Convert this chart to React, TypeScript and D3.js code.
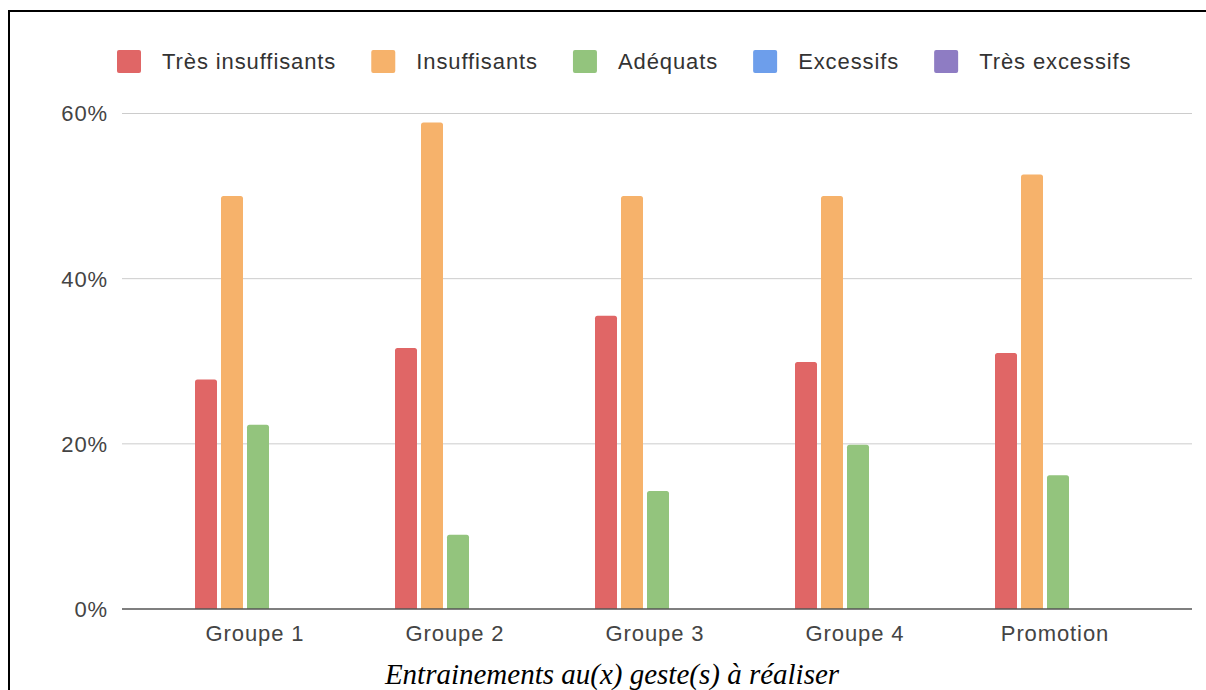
import React, { useEffect, useRef } from "react";
import * as d3 from "d3";

const categories = ["Groupe 1", "Groupe 2", "Groupe 3", "Groupe 4", "Promotion"];
const seriesNames = ["Très insuffisants", "Insuffisants", "Adéquats", "Excessifs", "Très excessifs"];
const seriesColors = ["#e06666", "#f6b26b", "#93c47d", "#6d9eeb", "#8e7cc3"];
const tresInsuffisants = [0.278, 0.316, 0.355, 0.299, 0.31];
const insuffisants = [0.5, 0.589, 0.5, 0.5, 0.526];
const adequats = [0.223, 0.09, 0.143, 0.199, 0.162];
const excessifs = [0, 0, 0, 0, 0];
const tresExcessifs = [0, 0, 0, 0, 0];
const yTicks = [0, 0.2, 0.4, 0.6];
const caption = "Entrainements au(x) geste(s) à réaliser";

const W = 1206;
const H = 690;
const FONT = "Arial, 'Liberation Sans', sans-serif";

export default function App() {
  const ref = useRef<SVGSVGElement>(null);

  useEffect(() => {
    const svg = d3.select(ref.current);
    svg.selectAll("*").remove();

    const allSeries = [tresInsuffisants, insuffisants, adequats, excessifs, tresExcessifs];
    const plotLeft = 122;
    const plotRight = 1192;
    const y = d3.scaleLinear().domain([0, 0.6]).range([609, 113.5]);
    const x = d3.scaleBand<string>().domain(categories).range([158, 1158]).padding(0);
    const xi = d3
      .scaleBand<string>()
      .domain(seriesNames)
      .range([37, 163])
      .paddingInner(4 / 26)
      .paddingOuter(0);

    // border
    svg
      .append("path")
      .attr("d", `M9,${H + 5} L9,11 L${W + 5},11`)
      .attr("fill", "none")
      .attr("stroke", "#000")
      .attr("stroke-width", 2);

    // gridlines
    svg
      .append("g")
      .selectAll("line")
      .data(yTicks.filter((t) => t > 0))
      .join("line")
      .attr("x1", plotLeft)
      .attr("x2", plotRight)
      .attr("y1", (d) => y(d))
      .attr("y2", (d) => y(d))
      .attr("stroke", "#cccccc")
      .attr("stroke-width", 1);

    // y labels
    svg
      .append("g")
      .selectAll("text")
      .data(yTicks)
      .join("text")
      .attr("x", 108)
      .attr("y", (d) => y(d))
      .attr("dy", "0.36em")
      .attr("text-anchor", "end")
      .attr("font-family", FONT)
      .attr("font-size", 22)
      .attr("letter-spacing", 0.9)
      .attr("fill", "#444")
      .text((d) => d3.format(".0%")(d));

    // bars
    const r = 2.5;
    const barPath = (x0: number, w: number, yTop: number, yBase: number) => {
      const h = yBase - yTop;
      if (h <= 0) return "";
      const rr = Math.min(r, h);
      return `M${x0},${yBase} L${x0},${yTop + rr} Q${x0},${yTop} ${x0 + rr},${yTop} L${x0 + w - rr},${yTop} Q${x0 + w},${yTop} ${x0 + w},${yTop + rr} L${x0 + w},${yBase} Z`;
    };
    const bars = svg.append("g");
    categories.forEach((c, ci) => {
      seriesNames.forEach((s, si) => {
        const v = allSeries[si][ci];
        const d = barPath((x(c) as number) + (xi(s) as number), xi.bandwidth(), y(v), y(0));
        if (d) bars.append("path").attr("d", d).attr("fill", seriesColors[si]);
      });
    });

    // baseline
    svg
      .append("line")
      .attr("x1", plotLeft)
      .attr("x2", plotRight)
      .attr("y1", y(0))
      .attr("y2", y(0))
      .attr("stroke", "#555")
      .attr("stroke-width", 1.5);

    // x labels
    svg
      .append("g")
      .selectAll("text")
      .data(categories)
      .join("text")
      .attr("x", (d) => (x(d) as number) + x.bandwidth() / 2 - 3)
      .attr("y", 641)
      .attr("text-anchor", "middle")
      .attr("font-family", FONT)
      .attr("font-size", 22)
      .attr("letter-spacing", 0.9)
      .attr("fill", "#444")
      .text((d) => d);

    // legend
    const lg = svg.append("g");
    let cx = 117;
    seriesNames.forEach((s, i) => {
      lg.append("rect")
        .attr("x", cx)
        .attr("y", 50)
        .attr("width", 24)
        .attr("height", 23)
        .attr("rx", 2)
        .attr("fill", seriesColors[i]);
      const t = lg
        .append("text")
        .attr("x", cx + 45)
        .attr("y", 69)
        .attr("font-family", FONT)
        .attr("font-size", 22)
        .attr("letter-spacing", 0.9)
        .attr("fill", "#333")
        .text(s);
      const tw = (t.node() as SVGTextElement).getComputedTextLength();
      cx = cx + 45 + tw + 35;
    });

    // caption
    svg
      .append("text")
      .attr("x", 612)
      .attr("y", 684)
      .attr("text-anchor", "middle")
      .attr("font-family", "'Times New Roman', 'Liberation Serif', serif")
      .attr("font-style", "italic")
      .attr("font-size", 29)
      .attr("fill", "#000")
      .text(caption);
  }, []);

  return (
    <svg
      ref={ref}
      width={W}
      height={H}
      style={{ position: "absolute", left: 0, top: 0, background: "#fff" }}
    />
  );
}
